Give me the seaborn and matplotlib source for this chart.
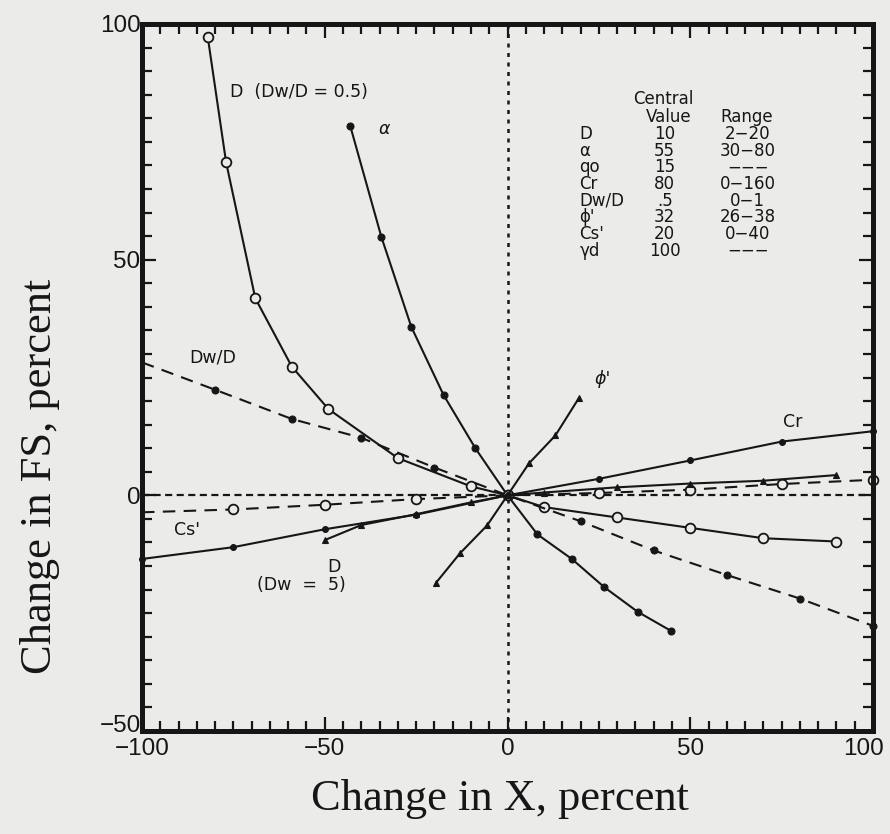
import matplotlib
matplotlib.use("Agg")
import matplotlib.pyplot as plt
import matplotlib.transforms as mtrans
import numpy as np
import seaborn as sns
import pandas as pd

# values (percent change)
d_half_x = [-82, -77, -69, -59, -49, -30, -10, 0, 10, 30, 50, 70, 90]
d_half_y = [97.2, 70.7, 41.8, 27.3, 18.3, 7.9, 1.9, 0, -2.5, -4.7, -6.9, -9.1, -9.8]

alpha_x = [-43, -34.5, -26.3, -17.5, -8.8, 0, 8.2, 17.6, 26.5, 35.6, 44.6]
alpha_y = [78.3, 54.8, 35.7, 21.3, 10.0, 0, -8.3, -13.5, -19.5, -24.7, -28.7]

dwd_x = [-100, -80, -59, -40, -20, 0, 20, 40, 60, 80, 100]
dwd_y = [28.2, 22.4, 16.2, 12.2, 5.9, 0, -5.5, -11.7, -16.9, -21.9, -27.7]

cs_x = [-100, -75, -50, -25, 0, 25, 50, 75, 100]
cs_y = [-3.6, -3.0, -2.0, -0.8, 0, 0.5, 1.2, 2.4, 3.3]

cr_x = [-100, -75, -50, -25, 0, 25, 50, 75, 100]
cr_y = [-13.5, -11.0, -7.2, -4.1, 0, 3.5, 7.4, 11.4, 13.6]

phi_x = [-19.5, -13, -5.6, 0, 5.9, 13.1, 19.5]
phi_y = [-18.5, -12.3, -6.4, 0, 6.8, 12.7, 20.6]

d5_x = [-50, -40, -25, -10, 0, 10, 30, 50, 70, 90]
d5_y = [-9.5, -6.3, -4.0, -1.5, 0, 0.6, 1.7, 2.5, 3.1, 4.3]

tab_names = ["D", "α", "qo", "Cr", "Dw/D", "ϕ'", "Cs'", "γd"]
tab_values = ["10", "55", "15", "80", ".5", "32", "20", "100"]
tab_ranges = ["2−20", "30−80", "−−−", "0−160", "0−1", "26−38", "0−40", "−−−"]

bg = "#ebebea"
ink = "#161616"

sns.set_style("ticks")
plt.rcParams["font.family"] = ["DejaVu Sans"]

fig = plt.figure(figsize=(8.9, 8.34), dpi=100, facecolor=bg)
ax = fig.add_axes([142 / 890, 1 - 731 / 834, 731 / 890, 707 / 834])
ax.set_facecolor(bg)

# reference lines through the origin
ax.axvline(0, color=ink, lw=1.8, ls=(0, (1.6, 2.2)), zorder=1)
ax.axhline(0, color=ink, lw=1.6, ls=(0, (3.2, 2.0)), zorder=1)

open_c = dict(marker="o", ms=7, mfc=bg, mec=ink, mew=1.3)
fill_c = dict(marker="o", ms=5, mfc=ink, mec=ink, mew=0.8)
small_c = dict(marker="o", ms=4.2, mfc=ink, mec=ink, mew=0.8)
tri = dict(marker="^", ms=5, mfc=ink, mec=ink, mew=0.8)
solid = (0, ())
dashed = (0, (6, 4))

# last entry: skip the marker on the left spine for the two dashed curves
series = [
    (d_half_x, d_half_y, open_c, solid, None),
    (alpha_x, alpha_y, fill_c, solid, None),
    (dwd_x, dwd_y, fill_c, dashed, 1),
    (cs_x, cs_y, open_c, dashed, 1),
    (cr_x, cr_y, small_c, solid, None),
    (phi_x, phi_y, tri, solid, None),
    (d5_x, d5_y, tri, solid, None),
]
for xs, ys, mk, ls, skip in series:
    df = pd.DataFrame({"x": xs, "y": ys})
    every = list(range(skip, len(xs))) if skip else None
    sns.lineplot(data=df, x="x", y="y", ax=ax, color=ink, lw=1.5,
                 linestyle=ls, sort=False, estimator=None, clip_on=False,
                 zorder=3, markevery=every, **mk)

ax.set_xlim(-100, 100)
ax.set_ylim(-50, 100)
ax.set_xticks([-100, -50, 0, 50, 100])
ax.set_yticks([-50, 0, 50, 100])
ax.set_xticks(np.arange(-100, 101, 5), minor=True)
ax.set_yticks(np.arange(-50, 101, 5), minor=True)
ax.tick_params(which="both", direction="in", top=True, right=True,
               color=ink, width=1.6, labelsize=17.5, labelcolor=ink,
               labelfontfamily="Liberation Sans")
ax.tick_params(which="major", length=10)
ax.tick_params(which="minor", length=7)
ax.tick_params(axis="y", pad=1)
ax.tick_params(axis="x", pad=5)
for s in ax.spines.values():
    s.set_linewidth(3.6)
    s.set_color(ink)
    s.set_zorder(5)

ax.set_xlabel("Change in X, percent", fontsize=32, family="Liberation Serif",
              color=ink)
ax.set_ylabel("Change in FS, percent", fontsize=32, family="Liberation Serif",
              color=ink)
ax.xaxis.set_label_coords(0.49, -0.068)
ax.yaxis.set_label_coords(-0.112, 0.36)

lab = dict(fontsize=12.5, color=ink)
ax.text(-75.9, 85.6, "D  (Dw/D = 0.5)", ha="left", va="center", **lab)
ax.text(-33.7, 77.7, "α", ha="center", va="center", style="italic", **lab)
ax.text(-87.1, 29.3, "Dw/D", ha="left", va="center", **lab)
ax.text(-91.2, -7.4, "Cs'", ha="left", va="center", **lab)
ax.text(-47.4, -15.3, "D", ha="center", va="center", **lab)
ax.text(-56.4, -19.1, "(Dw  =  5)", ha="center", va="center", **lab)
ax.text(26, 24.6, "ϕ'", ha="center", va="center", style="italic", **lab)
ax.text(78, 15.5, "Cr", ha="center", va="center", **lab)

tab = dict(fontsize=12, color=ink)
ax.text(42.7, 84.1, "Central", ha="center", va="center", **tab)
ax.text(44.1, 80.3, "Value", ha="center", va="center", **tab)
ax.text(65.5, 80.3, "Range", ha="center", va="center", **tab)
for i, (n, v, r) in enumerate(zip(tab_names, tab_values, tab_ranges)):
    yy = 76.7 - i * 3.55
    ax.text(19.7, yy, n, ha="left", va="center", **tab)
    ax.text(43, yy, v, ha="center", va="center", **tab)
    ax.text(65.7, yy, r, ha="center", va="center", **tab)

# nudge corner tick labels so they don't collide / run off the edge
fig.canvas.draw()
lbl = ax.xaxis.get_major_ticks()[-1].label1
lbl.set_transform(lbl.get_transform() + mtrans.ScaledTranslation(-10 / 100, 0, fig.dpi_scale_trans))
lbl = ax.yaxis.get_major_ticks()[0].label1
lbl.set_transform(lbl.get_transform() + mtrans.ScaledTranslation(0, 7 / 100, fig.dpi_scale_trans))

plt.savefig("out.png", dpi=100, facecolor=bg)
